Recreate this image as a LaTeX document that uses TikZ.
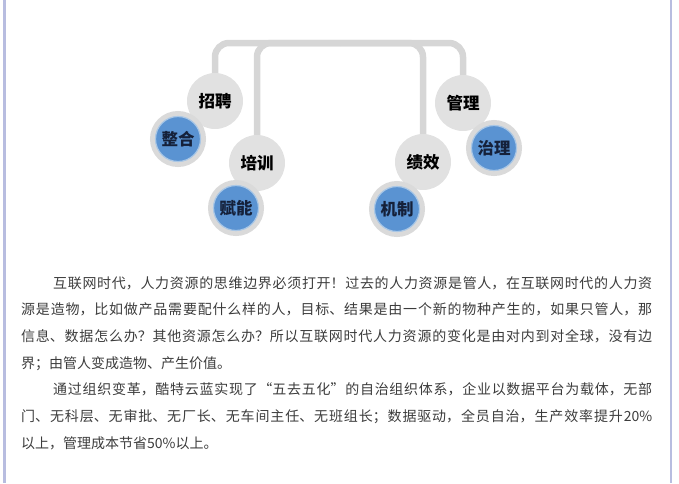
\documentclass[tikz,border=0pt]{standalone}
\usepackage{fontspec}
\newfontfamily\cjk{Noto Sans CJK SC}
\XeTeXlinebreaklocale "zh"
\XeTeXlinebreakskip=0pt plus 2pt
\usepackage{xcolor}
\definecolor{frameline}{HTML}{B8BDE0}
\definecolor{clink}{HTML}{D6D6D6}
\definecolor{cgray}{HTML}{E1E1E1}
\definecolor{cring}{HTML}{DADADA}
\definecolor{cblue}{HTML}{5A93D2}
\definecolor{crim}{HTML}{A9C7E6}
\definecolor{cnavy}{HTML}{15213A}
\definecolor{ctext}{HTML}{3C3C3C}

\begin{document}
\begin{tikzpicture}[x=1pt, y=-1pt,
	graynode/.style={circle, fill=cgray, minimum size=56pt, inner sep=0pt, text=black, font=\cjk\bfseries\fontsize{16.5}{16.5}\selectfont},
	bluenode/.style={circle, fill=cblue, draw=crim, line width=1.2pt, minimum size=45pt, inner sep=0pt, preaction={draw=cring, line width=11pt}, text=cnavy, font=\cjk\bfseries\fontsize{16.5}{16.5}\selectfont},
	link/.style={draw=clink, line width=6.5pt, rounded corners=14pt},
	frame/.style={draw=frameline, line width=2.5pt}]
	\useasboundingbox (0,0) rectangle (679,483);
	\draw[frame] (4.5,0) -- (4.5,483);
	\draw[frame] (671,0) -- (671,483);
	\node (zhaopin) [graynode] at (215,101) {招聘};
	\node (peixun) [graynode] at (257,163) {培训};
	\node (jixiao) [graynode] at (423,162) {绩效};
	\node (guanli) [graynode] at (463,103) {管理};
	\node (zhenghe) [bluenode] at (178,139) {整合};
	\node (funeng) [bluenode] at (236,208) {赋能};
	\node (jizhi) [bluenode] at (397,209) {机制};
	\node (zhili) [bluenode] at (494,148) {治理};
	\coordinate (bar) at (340,43);
	\draw[link] (peixun.north) |- (bar);
	\draw[link] (jixiao.north) |- (bar);
	\draw[link] (zhaopin.north) |- (bar) -| (guanli.north);
	\node (body) [anchor=north west, text width=631pt, align=justify, inner sep=0pt, text=ctext, font=\cjk\fontsize{14}{26.7}\selectfont] at (21,276) {%
	\hspace*{32pt}互联网时代，人力资源的思维边界必须打开！过去的人力资源是管人，在互联网时代的人力资\linebreak
	源是造物，比如做产品需要配什么样的人，目标、结果是由一个新的物种产生的，如果只管人，那\linebreak
	信息、数据怎么办？其他资源怎么办？所以互联网时代人力资源的变化是由对内到对全球，没有边\linebreak
	界；由管人变成造物、产生价值。\par
	\hspace*{32pt}通过组织变革，酷特云蓝实现了“五去五化”的自治组织体系，企业以数据平台为载体，无部\linebreak
	门、无科层、无审批、无厂长、无车间主任、无班组长；数据驱动，全员自治，生产效率提升20\%\linebreak
	以上，管理成本节省50\%以上。};
\end{tikzpicture}
\end{document}
